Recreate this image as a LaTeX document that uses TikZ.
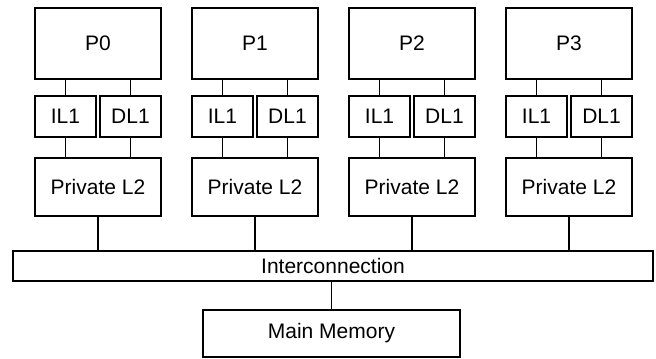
\documentclass[tikz,border=0pt]{standalone}
\usepackage{fontspec}
\setmainfont{Liberation Sans}
\begin{document}
\begin{tikzpicture}[
		% styles for the boxes
		hop/.style={draw, rectangle, inner sep=0pt, line width=0.9pt},
		cpu/.style={hop, minimum width=63pt, minimum height=35.5pt},
		lmot/.style={hop, minimum width=30.5pt, minimum height=20.5pt},
		lhai/.style={hop, minimum width=63pt, minimum height=29pt},
		noi/.style={line width=0.9pt}
		,line join=miter,font=\fontsize{10.5}{12}\selectfont,x=0.5pt,y=-0.5pt]
		\useasboundingbox (0,0) rectangle (656,358);

		% four cores with their caches
		\foreach \i in {0,1,2,3}{
			\pgfmathsetmacro{\ox}{35+157*\i}
			\node[cpu] (P\i) at (\ox+63, 43.5) {P\i};
			\node[lmot] (IL\i) at (\ox+30.5, 116.5) {IL1};
			\node[lmot] (DL\i) at (\ox+95.5, 116.5) {DL1};
			\node[lhai] (L\i) at (\ox+63, 187) {Private L2};

			\draw[noi] (IL\i.north) -- (IL\i.north |- P\i.south);
			\draw[noi] (DL\i.north) -- (DL\i.north |- P\i.south);
			\draw[noi] (IL\i.south) -- (IL\i.south |- L\i.north);
			\draw[noi] (DL\i.south) -- (DL\i.south |- L\i.north);
		}

		% bus and memory
		\node[hop, minimum width=320pt, minimum height=15pt] (bus) at (333, 266) {Interconnection};
		\node[hop, minimum width=128.5pt, minimum height=23.5pt] (mem) at (331.5, 333.5) {Main Memory};

		\foreach \i in {0,1,2,3}
			\draw[noi] (L\i.south) -- (L\i.south |- bus.north);
		\draw[noi] (mem.north) -- (mem.north |- bus.south);

	\end{tikzpicture}
\end{document}
